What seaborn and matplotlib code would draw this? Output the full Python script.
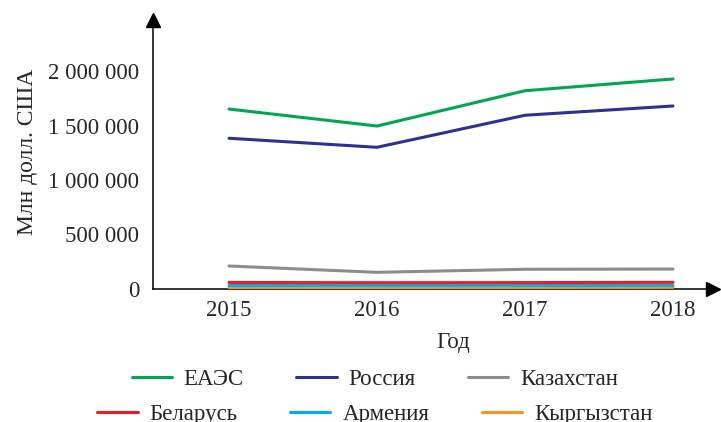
import pandas as pd
import seaborn as sns
import matplotlib.pyplot as plt
from matplotlib.ticker import FuncFormatter

# values (млн долл. США)
years = [2015, 2016, 2017, 2018]
countries = ['ЕАЭС', 'Россия', 'Казахстан', 'Беларусь', 'Армения', 'Кыргызстан']
eaeu = [1651000, 1495000, 1819000, 1927000]
russia = [1383000, 1300000, 1594000, 1679000]
kazakhstan = [211000, 153000, 181000, 183000]
belarus = [60000, 58000, 59000, 61000]
armenia = [33000, 32000, 33000, 34000]
kyrgyzstan = [14000, 14000, 14000, 15000]

colors = {'ЕАЭС': '#00a651', 'Россия': '#2e3192', 'Казахстан': '#8c8c8c',
          'Беларусь': '#ed1c24', 'Армения': '#00aeef', 'Кыргызстан': '#f7941d'}

series = [eaeu, russia, kazakhstan, belarus, armenia, kyrgyzstan]
rows = []
for name, vals in zip(countries, series):
    for y, v in zip(years, vals):
        rows.append({'Год': y, 'Страна': name, 'Значение': v})
df = pd.DataFrame(rows)

sns.set_style('white')
plt.rcParams['font.family'] = ['Liberation Serif', 'DejaVu Serif']
plt.rcParams['font.size'] = 16.5

fig = plt.figure(figsize=(7.21, 4.22), dpi=100)
ax = fig.add_axes([153 / 721, 1 - 289 / 422, (713 - 153) / 721, (289 - 20) / 422])

sns.lineplot(data=df, x='Год', y='Значение', hue='Страна', hue_order=countries,
             palette=colors, linewidth=2.2, ax=ax)

# red over blue over orange, like the source
for line, z in zip(ax.get_lines()[:6], [3, 3, 3, 6, 5, 4]):
    line.set_zorder(z)

handles, labels = ax.get_legend_handles_labels()
ax.get_legend().remove()

ax.set_xlim(2018 - (673 - 153) / 148, 2018 + (713 - 673) / 148)
ax.set_ylim(0, (289 - 20) / 109 * 1e6)
ax.set_xticks(years)
ax.set_xticklabels([str(y) for y in years])
ax.set_yticks([0, 500000, 1000000, 1500000, 2000000])
ax.yaxis.set_major_formatter(FuncFormatter(lambda v, p: f'{int(v):,}'.replace(',', ' ')))

sns.despine(ax=ax)
for s in ['left', 'bottom']:
    ax.spines[s].set_color('black')
    ax.spines[s].set_linewidth(1.1)
ax.tick_params(axis='y', direction='out', length=7, width=1, color='black', pad=3, labelsize=16.5)
ax.tick_params(axis='x', length=0, pad=8, labelsize=16.5)

# arrow heads
ax.plot(1, 0, '>k', transform=ax.transAxes, clip_on=False, markersize=10)
ax.plot(0, 1, '^k', transform=ax.transAxes, clip_on=False, markersize=10)

ax.set_xlabel('Год', fontsize=16.5)
ax.xaxis.set_label_coords((453 - 153) / 560, -0.16)
ax.set_ylabel('Млн долл. США', fontsize=17)
ax.yaxis.set_label_coords(-0.205, 0.51)

leg_kw = dict(loc='center', ncol=3, frameon=False, fontsize=16.5, handlelength=1.75,
              handletextpad=0.52, columnspacing=2.3)
fig.legend(handles[:3], labels[:3], bbox_to_anchor=(0.52, 1 - 379 / 422), **leg_kw)
fig.legend(handles[3:], labels[3:], bbox_to_anchor=(0.52, 1 - 414 / 422), **leg_kw)

fig.savefig('out.png', dpi=100)
